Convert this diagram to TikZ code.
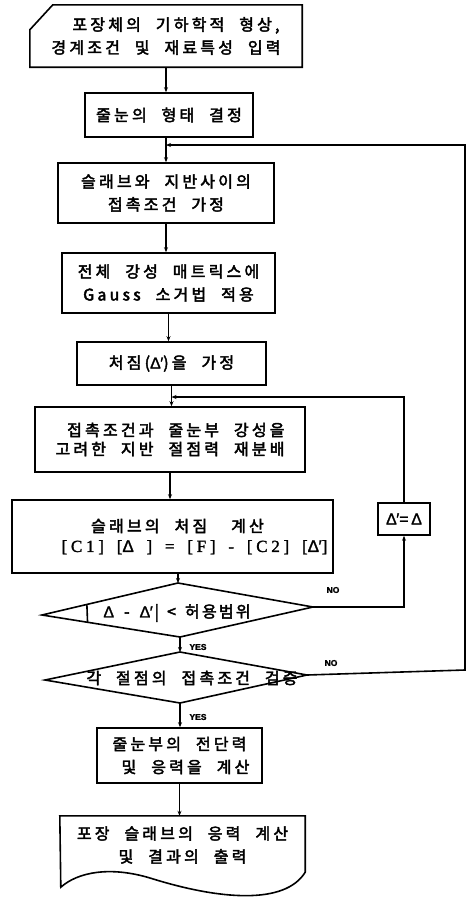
\documentclass[tikz,border=0pt]{standalone}
\usepackage{fontspec}
\newfontfamily\kr{Noto Sans CJK KR}[LetterSpace=20,WordSpace=2.2,FakeBold=2.6]
\newfontfamily\krn{Noto Sans CJK KR}[LetterSpace=14,FakeBold=2.6]
\newfontfamily\lat{Liberation Serif}[LetterSpace=22,WordSpace=1.6,FakeBold=1.5]
\newfontfamily\lab{Liberation Sans}[FakeBold=1.5]
\newcommand{\Dl}{{\lab Δ}}
\newcommand{\Dp}{{\lab Δ\kern-0.5pt′}}
\usetikzlibrary{arrows.meta,calc}
\tikzset{
  ln/.style={line width=1.6pt, line join=miter},
  conn/.style={ln, -{Stealth[length=5pt,width=4pt]}},
  box/.style={draw, ln, inner sep=0pt, align=center,
    font={\fontsize{16}{23}\selectfont\kr}},
  txt/.style={inner sep=0pt, align=center,
    font={\fontsize{16}{23}\selectfont\kr}},
  yn/.style={inner sep=0pt, font={\fontsize{8.5}{10}\selectfont\lab\bfseries}}
}
\begin{document}
\begin{tikzpicture}[x=1pt,y=-1pt]
\useasboundingbox[fill=white] (0,0) rectangle (472,902);

% input (manual input shape)
\node[txt, minimum width=272pt, minimum height=62pt] (b1) at (166,36)
  {\hspace*{20pt}포장체의 기하학적 형상,\\경계조건 및 재료특성 입력};
\draw[ln] ($(b1.north west)+(23,0)$) -- (b1.north east) -- (b1.south east)
  -- (b1.south west) -- ($(b1.north west)+(0,25)$) -- cycle;

\node[box, minimum width=168pt, minimum height=44pt] (b2) at (169,115) {줄눈의 형태 결정};
\node[box, minimum width=216pt, minimum height=60pt] (b3) at (166,193) {슬래브와 지반사이의\\접촉조건 가정};
\node[box, minimum width=213pt, minimum height=60pt] (b4) at (168.5,283) {전체 강성 매트릭스에\\Gauss 소거법 적용};
\node[box, minimum width=189pt, minimum height=43pt] (b5) at (171.5,363.5) {처짐(\Dp)을 가정};
\node[box, minimum width=270pt, minimum height=65pt, align=right,
  font={\fontsize{16}{19}\selectfont\kr}] (b6) at (170,439.5)
  {접촉조건과 줄눈부 강성을\\고려한 지반 절점력 재분배};
\node[box, minimum width=321pt, minimum height=73pt,
  font={\fontsize{16}{20}\selectfont\kr}] (b7) at (172.5,536.5)
  {\hspace*{10pt}슬래브의 처짐\hspace{24pt}계산\\
   \hspace*{44pt}{\lat\fontsize{17}{20}\selectfont [C1] [\Dl\ ] = [F] - [C2] [\Dp]}};
\node[box, minimum width=52pt, minimum height=32pt,
  font={\fontsize{16}{20}\selectfont\lab}] (bD) at (404,519) {Δ\kern-0.5pt′=\,Δ};

% decision 1
\coordinate (d1t) at (178,583);
\coordinate (d1r) at (313,607);
\coordinate (d1b) at (180,637);
\coordinate (d1l) at (42,615);
\draw[ln] (d1t) -- (d1r) -- (d1b) -- (d1l) -- cycle;
\draw[ln] ($(d1l)!0.33!(d1t)$) -- ($(d1l)!0.33!(d1b)$);
\node[txt, font={\fontsize{16}{20}\selectfont\krn}] (d1) at (177,613)
  {\Dl\hspace{10pt}-\hspace{10pt}\Dp\hspace{2pt}|\hspace{8pt}<\hspace{9pt}허용범위};

% decision 2
\coordinate (d2t) at (180,652);
\coordinate (d2r) at (307,675);
\coordinate (d2b) at (180,703);
\coordinate (d2l) at (45,680);
\draw[ln] (d2t) -- (d2r) -- (d2b) -- (d2l) -- cycle;
\node[txt] (d2) at (192,678) {각 절점의 접촉조건 검증};

\node[box, minimum width=165pt, minimum height=55pt] (b8) at (179.5,755.5) {줄눈부의 전단력\\\hspace*{12pt}및 응력을 계산};

% output document
\node[txt, minimum width=245pt, minimum height=58pt] (b9) at (182.5,845)
  {포장 슬래브의 응력 계산\\및 결과의 출력};
\draw[ln] (b9.north west) -- (b9.north east) -- ($(b9.south east)+(0,-2)$)
  .. controls (285,905) and (220,900) .. (150,878)
  .. controls (110,866) and (78,872) .. ($(b9.south west)+(1,13)$) -- cycle;

% labels
\node[yn] (no1) at (333,590) {NO};
\node[yn] (yes1) at (198,647) {YES};
\node[yn] (no2) at (331,663) {NO};
\node[yn] (yes2) at (198,717) {YES};

% junctions
\coordinate (j1) at (166,145);
\coordinate (j2) at (171.5,397);
\coordinate (c1) at (465,670);

% main flow
\draw[conn] (b1.south) -- (b1.south |- b2.north);
\draw[conn] (b3.north |- b2.south) -- (b3.north);
\draw[conn] (b3.south) -- (b3.south |- b4.north);
\draw[conn] (b4.south) -- (b4.south |- b5.north);
\draw[conn] (b5.south) -- (b5.south |- b6.north);
\draw[conn] (b6.south) -- (b6.south |- b7.north);
\draw[conn] (b7.south -| d1t) -- (d1t);
\draw[conn] (d1b) -- (d2t);
\draw[conn] (d2b) -- (d2b |- b8.north);
\draw[conn] (b8.south) -- (b8.south |- b9.north);

% loops
\draw[conn] (d1r) -- (d1r -| bD.south) -- (bD.south);
\draw[conn] (bD.north) -- (bD.north |- j2) -- (j2);
\draw[conn] (d2r) -- (c1) -- (c1 |- j1) -- (j1);
\end{tikzpicture}
\end{document}
